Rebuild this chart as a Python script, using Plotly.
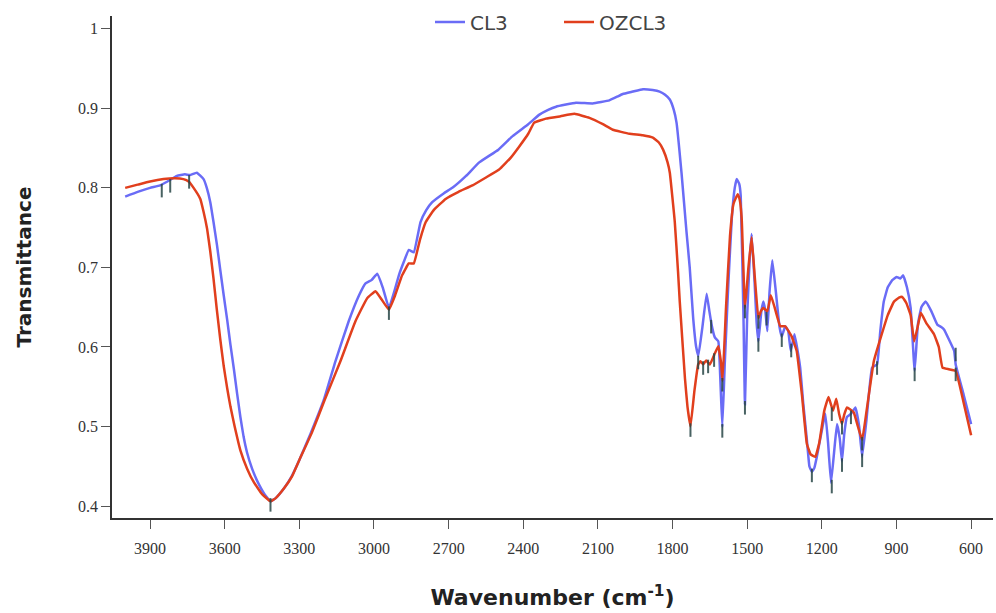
import plotly.graph_objects as go

# CL3 spectrum (wavenumber cm-1, transmittance)
cl3_wn = [4000, 3950, 3900, 3860, 3830, 3792, 3760, 3740, 3712, 3685, 3672, 3658, 3645, 3631, 3618,
          3604, 3590, 3577, 3563, 3550, 3537, 3524, 3510, 3490, 3470, 3440, 3416, 3395, 3360, 3335,
          3300, 3255, 3200, 3155, 3102, 3060, 3034, 3010, 2987, 2965, 2940, 2920, 2900, 2880, 2860,
          2840, 2813, 2790, 2766, 2720, 2685, 2630, 2577, 2500, 2443, 2380, 2335, 2300, 2268, 2188,
          2121, 2054, 2020, 2000, 1960, 1919, 1880, 1852, 1830, 1811, 1795, 1784, 1764, 1744, 1731,
          1717, 1705, 1696, 1680, 1663, 1652, 1643, 1630, 1616, 1608, 1600, 1590, 1576, 1562, 1550,
          1542, 1532, 1526, 1515, 1509, 1500, 1490, 1482, 1470, 1462, 1455, 1443, 1435, 1427, 1419,
          1410, 1399, 1385, 1370, 1361, 1347, 1335, 1325, 1310, 1300, 1287, 1275, 1260, 1250, 1240,
          1230, 1220, 1200, 1186, 1175, 1163, 1150, 1139, 1128, 1119, 1110, 1099, 1083, 1065, 1050,
          1038, 1020, 998, 978, 965, 951, 935, 917, 900, 885, 873, 858, 843, 827, 814,
          800, 783, 760, 736, 720, 709, 690, 668, 662, 630, 600]
cl3_t = [0.789, 0.795, 0.800, 0.803, 0.808, 0.815, 0.817, 0.816, 0.819, 0.811, 0.800, 0.782, 0.757, 0.728, 0.697,
         0.665, 0.634, 0.603, 0.572, 0.541, 0.512, 0.487, 0.467, 0.447, 0.432, 0.415, 0.406, 0.410, 0.423, 0.435,
         0.458, 0.491, 0.535, 0.582, 0.632, 0.665, 0.680, 0.684, 0.692, 0.675, 0.649, 0.668, 0.690, 0.707, 0.722,
         0.719, 0.757, 0.772, 0.782, 0.793, 0.800, 0.815, 0.832, 0.848, 0.865, 0.880, 0.892, 0.898, 0.902, 0.907,
         0.906, 0.910, 0.915, 0.918, 0.921, 0.924, 0.923, 0.921, 0.917, 0.911, 0.898, 0.882, 0.819, 0.745, 0.700,
         0.636, 0.600, 0.589, 0.625, 0.667, 0.645, 0.628, 0.612, 0.607, 0.560, 0.499, 0.580, 0.678, 0.761, 0.800,
         0.811, 0.805, 0.790, 0.640, 0.528, 0.640, 0.710, 0.742, 0.680, 0.630, 0.607, 0.645, 0.657, 0.645, 0.620,
         0.670, 0.709, 0.670, 0.625, 0.613, 0.626, 0.620, 0.595, 0.616, 0.600, 0.574, 0.530, 0.483, 0.450, 0.443,
         0.448, 0.462, 0.495, 0.516, 0.480, 0.429, 0.470, 0.503, 0.485, 0.456, 0.490, 0.512, 0.516, 0.524, 0.500,
         0.462, 0.510, 0.574, 0.578, 0.620, 0.657, 0.675, 0.684, 0.688, 0.686, 0.690, 0.675, 0.649, 0.570, 0.628,
         0.650, 0.657, 0.645, 0.628, 0.625, 0.622, 0.610, 0.595, 0.578, 0.540, 0.503]

# OZCL3 spectrum
oz_wn = [4000, 3950, 3900, 3846, 3800, 3766, 3745, 3725, 3698, 3685, 3671, 3658, 3645, 3632, 3618,
         3604, 3590, 3577, 3560, 3537, 3510, 3483, 3450, 3416, 3395, 3360, 3330, 3300, 3250, 3200,
         3135, 3075, 3028, 2994, 2970, 2940, 2915, 2887, 2860, 2840, 2815, 2792, 2760, 2712, 2660,
         2604, 2550, 2497, 2450, 2416, 2380, 2356, 2309, 2250, 2194, 2134, 2080, 2040, 1973, 1920,
         1879, 1855, 1838, 1820, 1811, 1791, 1778, 1771, 1750, 1740, 1728, 1712, 1697, 1688, 1677,
         1665, 1650, 1630, 1616, 1605, 1599, 1585, 1569, 1555, 1538, 1530, 1522, 1509, 1495, 1482,
         1470, 1455, 1445, 1435, 1419, 1405, 1390, 1367, 1347, 1321, 1301, 1280, 1260, 1245, 1226,
         1210, 1190, 1173, 1155, 1142, 1130, 1119, 1110, 1099, 1072, 1055, 1038, 1020, 991, 964,
         935, 910, 890, 877, 860, 843, 829, 815, 802, 780, 749, 730, 715, 690, 662,
         630, 600]
oz_t = [0.800, 0.804, 0.808, 0.811, 0.812, 0.811, 0.808, 0.800, 0.786, 0.770, 0.749, 0.720, 0.686, 0.648, 0.610,
        0.576, 0.548, 0.525, 0.500, 0.470, 0.447, 0.430, 0.415, 0.406, 0.410, 0.423, 0.437, 0.458, 0.492, 0.532,
        0.582, 0.632, 0.661, 0.670, 0.660, 0.647, 0.665, 0.690, 0.705, 0.705, 0.735, 0.757, 0.772, 0.786, 0.795,
        0.803, 0.813, 0.823, 0.838, 0.852, 0.868, 0.882, 0.887, 0.890, 0.893, 0.888, 0.880, 0.873, 0.868, 0.866,
        0.863, 0.857, 0.848, 0.832, 0.819, 0.757, 0.695, 0.657, 0.560, 0.525, 0.500, 0.545, 0.578, 0.582, 0.578,
        0.583, 0.578, 0.592, 0.601, 0.580, 0.557, 0.650, 0.740, 0.780, 0.792, 0.785, 0.761, 0.649, 0.700, 0.738,
        0.690, 0.636, 0.645, 0.649, 0.645, 0.665, 0.650, 0.626, 0.626, 0.613, 0.595, 0.540, 0.478, 0.465, 0.462,
        0.480, 0.520, 0.537, 0.520, 0.535, 0.515, 0.503, 0.515, 0.524, 0.518, 0.500, 0.483, 0.520, 0.582, 0.611,
        0.640, 0.657, 0.662, 0.663, 0.655, 0.640, 0.607, 0.625, 0.643, 0.630, 0.616, 0.600, 0.574, 0.572, 0.570,
        0.530, 0.489]

# Peak markers
peak_wn = [3853, 3819, 3743, 3416, 2940, 1728, 1697, 1677, 1657, 1645, 1633, 1600, 1600, 1509, 1509,
           1455, 1455, 1422, 1361, 1323, 1240, 1160, 1160, 1119, 1119, 1083, 1038, 1038, 978, 827,
           662, 662]
peak_t = [0.801, 0.807, 0.812, 0.406, 0.647, 0.500, 0.585, 0.578, 0.580, 0.630, 0.588, 0.557, 0.499, 0.649, 0.528,
          0.636, 0.607, 0.640, 0.613, 0.600, 0.443, 0.520, 0.429, 0.503, 0.456, 0.516, 0.483, 0.462, 0.578, 0.570,
          0.595, 0.570]

x_ticks = [3900, 3600, 3300, 3000, 2700, 2400, 2100, 1800, 1500, 1200, 900, 600]
y_ticks = [0.4, 0.5, 0.6, 0.7, 0.8, 0.9, 1]

fig = go.Figure()
fig.add_trace(go.Scatter(x=cl3_wn, y=cl3_t, mode="lines", name="CL3",
                         line=dict(color="#6a6cf6", width=2.5, shape="spline", smoothing=0.3)))
fig.add_trace(go.Scatter(x=oz_wn, y=oz_t, mode="lines", name="OZCL3",
                         line=dict(color="#e13f1d", width=2.5, shape="spline", smoothing=0.3)))

mx, my = [], []
for w, t in zip(peak_wn, peak_t):
    mx += [w, w, None]
    my += [t + 0.004, t - 0.013, None]
fig.add_trace(go.Scatter(x=mx, y=my, mode="lines", showlegend=False, hoverinfo="skip",
                         line=dict(color="rgba(40,70,70,0.85)", width=2)))

fig.update_layout(
    width=996, height=613,
    margin=dict(l=112, r=3, t=12, b=95),
    paper_bgcolor="white", plot_bgcolor="white",
    legend=dict(orientation="h", x=(438 - 112 - 8) / 881, xanchor="left", y=0.988, yanchor="middle",
                font=dict(family="DejaVu Sans", size=20, color="#444"), bgcolor="rgba(0,0,0,0)",
                entrywidth=84, entrywidthmode="pixels"),
    xaxis=dict(range=[4053, 512], tickvals=x_ticks, ticktext=[str(v) for v in x_ticks],
               showgrid=False, zeroline=False, showline=True, linecolor="#333", linewidth=1.5,
               ticks="outside", ticklen=9, tickcolor="#555", tickwidth=1.2,
               ticklabelstandoff=6,
               tickfont=dict(family="Liberation Serif", size=16, color="#333"),
               title=dict(text="Wavenumber (cm<sup>-1</sup>)", standoff=34,
                          font=dict(family="DejaVu Sans", size=22, color="#222", weight="bold"))),
    yaxis=dict(range=[0.385, 1.016], tickvals=y_ticks, ticktext=["0.4", "0.5", "0.6", "0.7", "0.8", "0.9", "1"],
               showgrid=False, zeroline=False, showline=True, linecolor="#333", linewidth=1.5,
               ticks="outside", ticklen=9, tickcolor="#555", tickwidth=1.2,
               tickfont=dict(family="Liberation Serif", size=16, color="#333"),
               title=dict(text="Transmittance", standoff=41,
                          font=dict(family="DejaVu Sans", size=20, color="#222", weight="bold"))),
)

fig.write_html("out.html")
